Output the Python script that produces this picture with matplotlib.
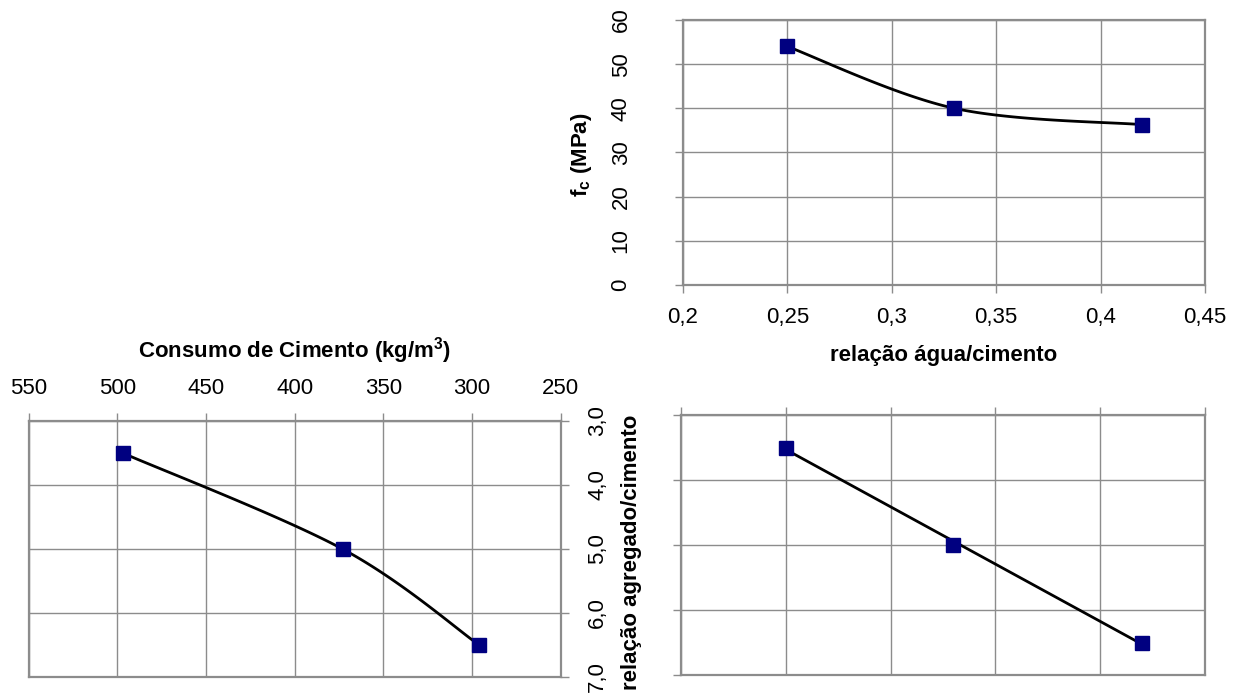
import numpy as np
import matplotlib
matplotlib.use("Agg")
import matplotlib.pyplot as plt

plt.rcParams['font.family'] = ['Liberation Sans', 'DejaVu Sans']
plt.rcParams['mathtext.fontset'] = 'custom'
plt.rcParams['mathtext.rm'] = 'Liberation Sans'
plt.rcParams['mathtext.bf'] = 'Liberation Sans:bold'
plt.rcParams['mathtext.it'] = 'Liberation Sans:italic'

# --- data -------------------------------------------------------------
agua_cimento = [0.25, 0.33, 0.42]          # relação água/cimento
fc_mpa = [54.0, 40.0, 36.3]                # resistência à compressão (MPa)
agregado_cimento = [3.5, 5.0, 6.5]         # relação agregado/cimento (m)
consumo_cimento = [497, 373, 296]          # consumo de cimento (kg/m3)

xticks_ac = [0.2, 0.25, 0.3, 0.35, 0.4, 0.45]
yticks_fc = [0, 10, 20, 30, 40, 50, 60]
xticks_cons = [550, 500, 450, 400, 350, 300, 250]
yticks_m = [3.0, 4.0, 5.0, 6.0, 7.0]

# --- figure -------------------------------------------------------------
W, H = 1243, 693
fig = plt.figure(figsize=(W / 100, H / 100), dpi=100)


def rect(l, t, r, b):
    return [l / W, 1 - b / H, (r - l) / W, (b - t) / H]


ax_fc = fig.add_axes(rect(683, 20, 1205, 285))
ax_cons = fig.add_axes(rect(28.6, 421, 560.7, 677))
ax_m = fig.add_axes(rect(681, 415, 1205, 675))

GRID = '#8c8c8c'
SPINE = '#8c8c8c'
NAVY = '#000080'
TICK_FS = 16
LABEL_FS = 16
LW = 2.0


def style(ax):
    ax.grid(True, color=GRID, lw=1.0)
    ax.set_axisbelow(True)
    for s in ax.spines.values():
        s.set_color(SPINE)
        s.set_linewidth(1.6)
    ax.tick_params(color=SPINE, width=1.0, length=6, labelsize=TICK_FS,
                   labelcolor='black', direction='out')


def comma(v, fmt):
    return format(v, fmt).replace('.', ',')


def smooth_curve(ax, x, y, n=60):
    """Cubic Bezier smoothing (tension 1/6) computed in screen-proportional space."""
    bbox = ax.get_position()
    wpx, hpx = bbox.width * W, bbox.height * H
    x0, x1 = ax.get_xlim()
    y0, y1 = ax.get_ylim()
    X = (np.asarray(x, float) - x0) / (x1 - x0) * wpx
    Y = (np.asarray(y, float) - y0) / (y1 - y0) * hpx
    P = np.column_stack([X, Y])
    Pe = np.vstack([P[0], P, P[-1]])
    t = np.linspace(0, 1, n)[:, None]
    pts = []
    for i in range(len(P) - 1):
        p0, p3 = P[i], P[i + 1]
        p1 = p0 + (Pe[i + 2] - Pe[i]) / 6
        p2 = p3 - (Pe[i + 3] - Pe[i + 1]) / 6
        seg = ((1 - t) ** 3) * p0 + 3 * ((1 - t) ** 2) * t * p1 \
            + 3 * (1 - t) * t ** 2 * p2 + t ** 3 * p3
        pts.append(seg if i == 0 else seg[1:])
    S = np.vstack(pts)
    xs = S[:, 0] / wpx * (x1 - x0) + x0
    ys = S[:, 1] / hpx * (y1 - y0) + y0
    return xs, ys


# --- fc x a/c ----------------------------------------------------------
style(ax_fc)
ax_fc.set_xlim(0.2, 0.45)
ax_fc.set_ylim(0, 60)
ax_fc.set_xticks(xticks_ac, [comma(v, 'g') for v in xticks_ac])
ax_fc.set_yticks(yticks_fc, [str(v) for v in yticks_fc], rotation=90, va='center')
ax_fc.tick_params(axis='x', pad=10)
ax_fc.tick_params(axis='y', pad=31)
xs, ys = smooth_curve(ax_fc, agua_cimento, fc_mpa)
ax_fc.plot(xs, ys, color='black', lw=LW, zorder=2)
ax_fc.plot(agua_cimento, fc_mpa, ls='none', marker='s', ms=9.5, color=NAVY, zorder=3)

fig.text(582 / W, 1 - 155 / H, r'f$_\mathbf{c}$ (MPa)', rotation=90,
         ha='center', va='center', fontsize=LABEL_FS, fontweight='bold')
fig.text(944 / W, 1 - 356 / H, 'relação água/cimento',
         ha='center', va='center', fontsize=LABEL_FS, fontweight='bold')

# --- consumo x m -------------------------------------------------------
style(ax_cons)
ax_cons.set_xlim(550, 250)
ax_cons.set_ylim(7, 3)
ax_cons.xaxis.tick_top()
ax_cons.yaxis.tick_right()
ax_cons.set_xticks(xticks_cons, [str(v) for v in xticks_cons])
ax_cons.set_yticks(yticks_m, [comma(v, '.1f') for v in yticks_m], rotation=90, va='center')
ax_cons.tick_params(axis='x', pad=10)
ax_cons.tick_params(axis='y', pad=13)
xs, ys = smooth_curve(ax_cons, consumo_cimento, agregado_cimento)
ax_cons.plot(xs, ys, color='black', lw=LW, zorder=2)
ax_cons.plot(consumo_cimento, agregado_cimento, ls='none', marker='s', ms=9.5,
             color=NAVY, zorder=3)

fig.text(294.6 / W, 1 - 351 / H, r'Consumo de Cimento (kg/m$^\mathregular{3}$)',
         ha='center', va='center', fontsize=LABEL_FS, fontweight='bold')

# --- m x a/c -----------------------------------------------------------
style(ax_m)
ax_m.set_xlim(0.2, 0.45)
ax_m.set_ylim(7, 3)
ax_m.xaxis.tick_top()
ax_m.set_xticks(xticks_ac)
ax_m.set_yticks(yticks_m)
ax_m.tick_params(labeltop=False, labelbottom=False, labelleft=False, labelright=False)
coef = np.polyfit(agua_cimento, agregado_cimento, 1)
xfit = np.array([min(agua_cimento), max(agua_cimento)])
ax_m.plot(xfit, np.polyval(coef, xfit), color='black', lw=LW, zorder=2)
ax_m.plot(agua_cimento, agregado_cimento, ls='none', marker='s', ms=9.5,
          color=NAVY, zorder=3)

fig.text(632 / W, 1 - 552 / H, 'relação agregado/cimento', rotation=90,
         ha='center', va='center', fontsize=LABEL_FS, fontweight='bold')

fig.savefig('out.png', dpi=100)
